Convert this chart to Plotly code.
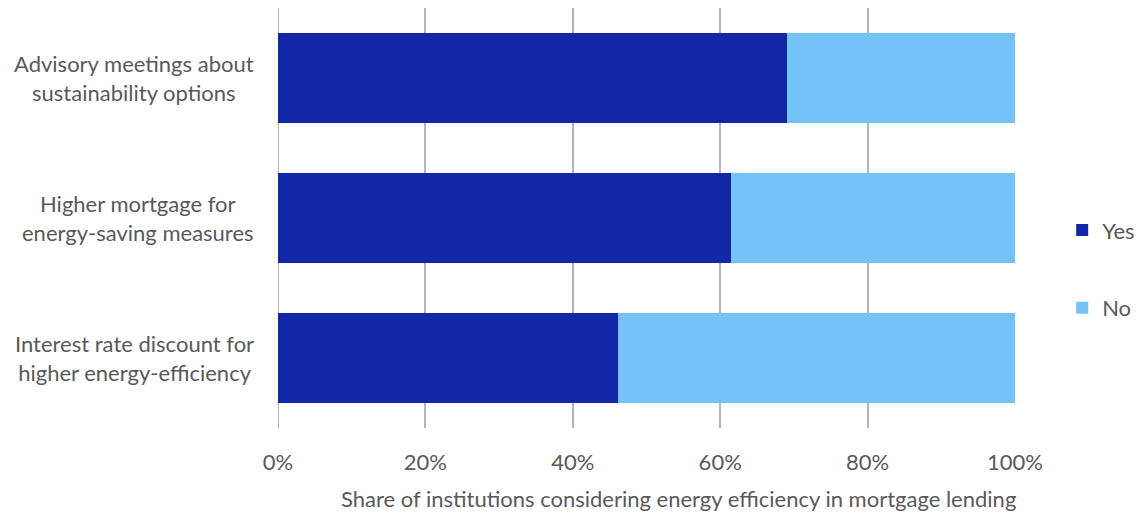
import plotly.graph_objects as go

categories = ["Advisory meetings about<br>sustainability options",
              "Higher mortgage for<br>energy-saving measures",
              "Interest rate discount for<br>higher energy-efficiency"]
yes_vals = [69.1, 61.5, 46.1]
no_vals = [30.9, 38.5, 53.9]
tick_vals = [0, 20, 40, 60, 80, 100]
tick_text = ["0%", "20%", "40%", "60%", "80%", "100%"]
x_title = "Share of institutions considering energy efficiency in mortgage lending"

FONT = "Lato"
GRAY = "#595959"
FS = 22

fig = go.Figure()
fig.add_trace(go.Bar(y=categories, x=yes_vals, orientation="h", name="Yes",
                     marker=dict(color="#1226A8", line=dict(width=0)),
                     legendgroup="a"))
fig.add_trace(go.Bar(y=categories, x=no_vals, orientation="h", name="No",
                     marker=dict(color="#74C2F8", line=dict(width=0)),
                     legendgroup="b"))

for c in categories:
    fig.add_annotation(x=-0.03, xref="paper", y=c, yref="y", text=c,
                       showarrow=False, xanchor="right", align="center",
                       font=dict(family=FONT, size=FS, color=GRAY))

fig.add_annotation(x=0.544, xref="paper", y=-0.167, yref="paper", text=x_title,
                   showarrow=False, xanchor="center", yanchor="middle",
                   font=dict(family=FONT, size=FS, color=GRAY))

fig.update_layout(
    barmode="stack",
    bargap=0.357,
    width=1143, height=515,
    margin=dict(l=278, r=128, t=8, b=87, autoexpand=False),
    plot_bgcolor="white", paper_bgcolor="white",
    font=dict(family=FONT, size=FS, color=GRAY),
    legend=dict(x=1.064, y=0.378, xanchor="left", yanchor="middle",
                tracegroupgap=46, font=dict(size=FS, color=GRAY),
                traceorder="grouped"),
    xaxis=dict(range=[0, 100], tickvals=tick_vals, ticktext=tick_text,
               showgrid=True, gridcolor="#B3B3B3", gridwidth=2,
               zeroline=False, showline=False,
               ticks="outside", ticklen=15, tickcolor="rgba(0,0,0,0)",
               tickfont=dict(size=FS, color=GRAY)),
    yaxis=dict(range=[2.5, -0.5], showticklabels=False, showgrid=False,
               zeroline=False, showline=False, ticks=""),
)
fig.add_shape(type="line", xref="x", yref="paper", x0=0, x1=0, y0=0, y1=1,
              line=dict(color="#B3B3B3", width=2), layer="below")

fig.write_html("out.html")
